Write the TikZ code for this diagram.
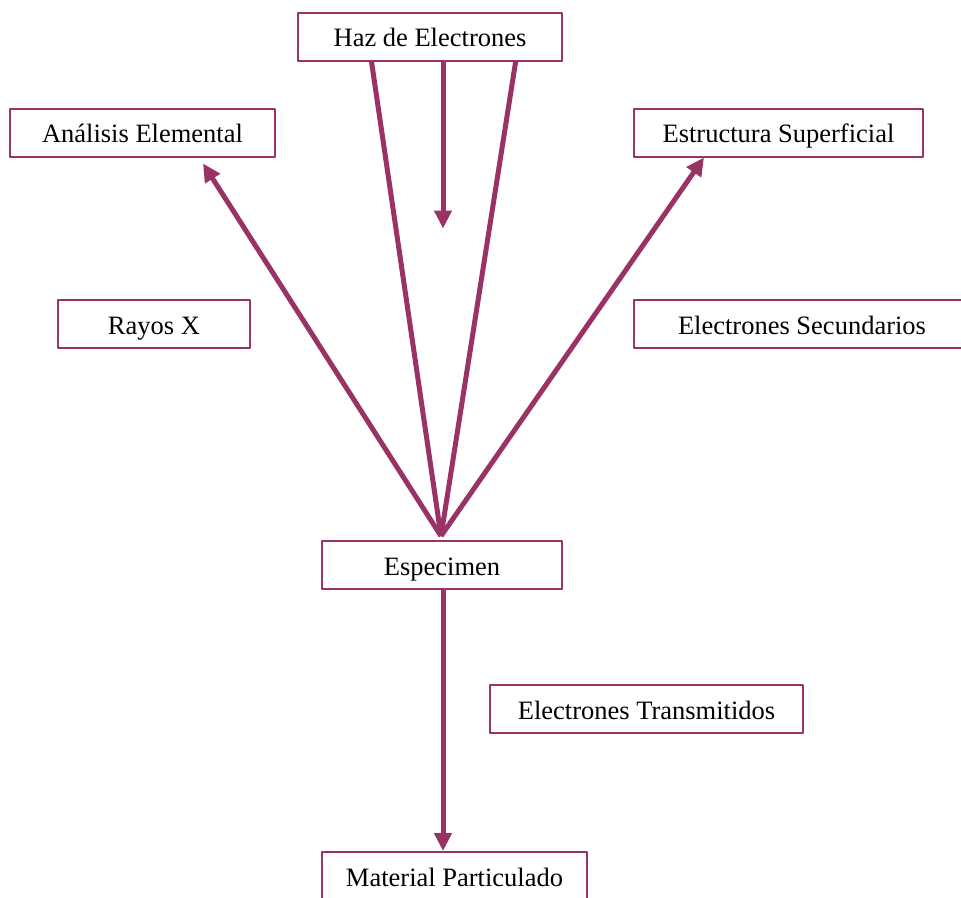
\documentclass[tikz,border=0pt]{standalone}
\usepackage{fontspec}
\setmainfont{Liberation Serif}
\usetikzlibrary{arrows.meta,calc}
\definecolor{ciruela}{HTML}{993366}
\begin{document}
\begin{tikzpicture}[>={Triangle[length=18pt,width=17pt]}, line join=round, x=1pt, y=-1pt, font=\fontsize{26.5}{32}\selectfont,
    caja/.style={draw=ciruela, line width=2pt, minimum height=48pt, inner sep=0pt, text height=20pt, text depth=0pt},
    haz/.style={ciruela, line width=5pt}]
    \useasboundingbox (0,0) rectangle (961,897);
    % cajas
    \node[caja, minimum width=264pt] (haz) at (430,36.5) {Haz de Electrones};
    \node[caja, minimum width=265pt] (ana) at (142.5,132.5) {Análisis Elemental};
    \node[caja, minimum width=289pt] (est) at (778.5,132.5) {Estructura Superficial};
    \node[caja, minimum width=192pt] (ray) at (154,324) {Rayos X};
    \node[caja, minimum width=336pt] (sec) at (802,324) {Electrones Secundarios};
    \node[caja, minimum width=240pt] (esp) at (442,565) {Especimen};
    \node[caja, minimum width=313pt] (tra) at (646.5,709) {Electrones Transmitidos};
    \node[caja, minimum width=265pt] (mat) at (454.5,876) {Material Particulado};
    % puntos
    \coordinate (apex) at ($(esp.north)+(-1,-4)$);
    \coordinate (izq) at ($(haz.south west)!0.28!(haz.south east)$);
    \coordinate (der) at ($(haz.south west)!0.822!(haz.south east)$);
    \coordinate (cen) at ($(haz.south)+(13,0)$);
    \coordinate (fin) at ($(cen)+(0,167)$);
    \coordinate (puntaA) at ($(ana.south west)+(194,6)$);
    \coordinate (puntaE) at ($(est.south west)+(71,0)$);
    \coordinate (sal) at ($(esp.south)+(1,0)$);
    % haz
    \draw[haz] (izq) -- (apex);
    \draw[haz] (der) -- (apex);
    \draw[haz,->] (cen) -- (fin);
    \draw[haz,->] (apex) -- (puntaA);
    \draw[haz,->] (apex) -- (puntaE);
    \draw[haz,->] (sal) -- (sal |- mat.north);
\end{tikzpicture}
\end{document}
